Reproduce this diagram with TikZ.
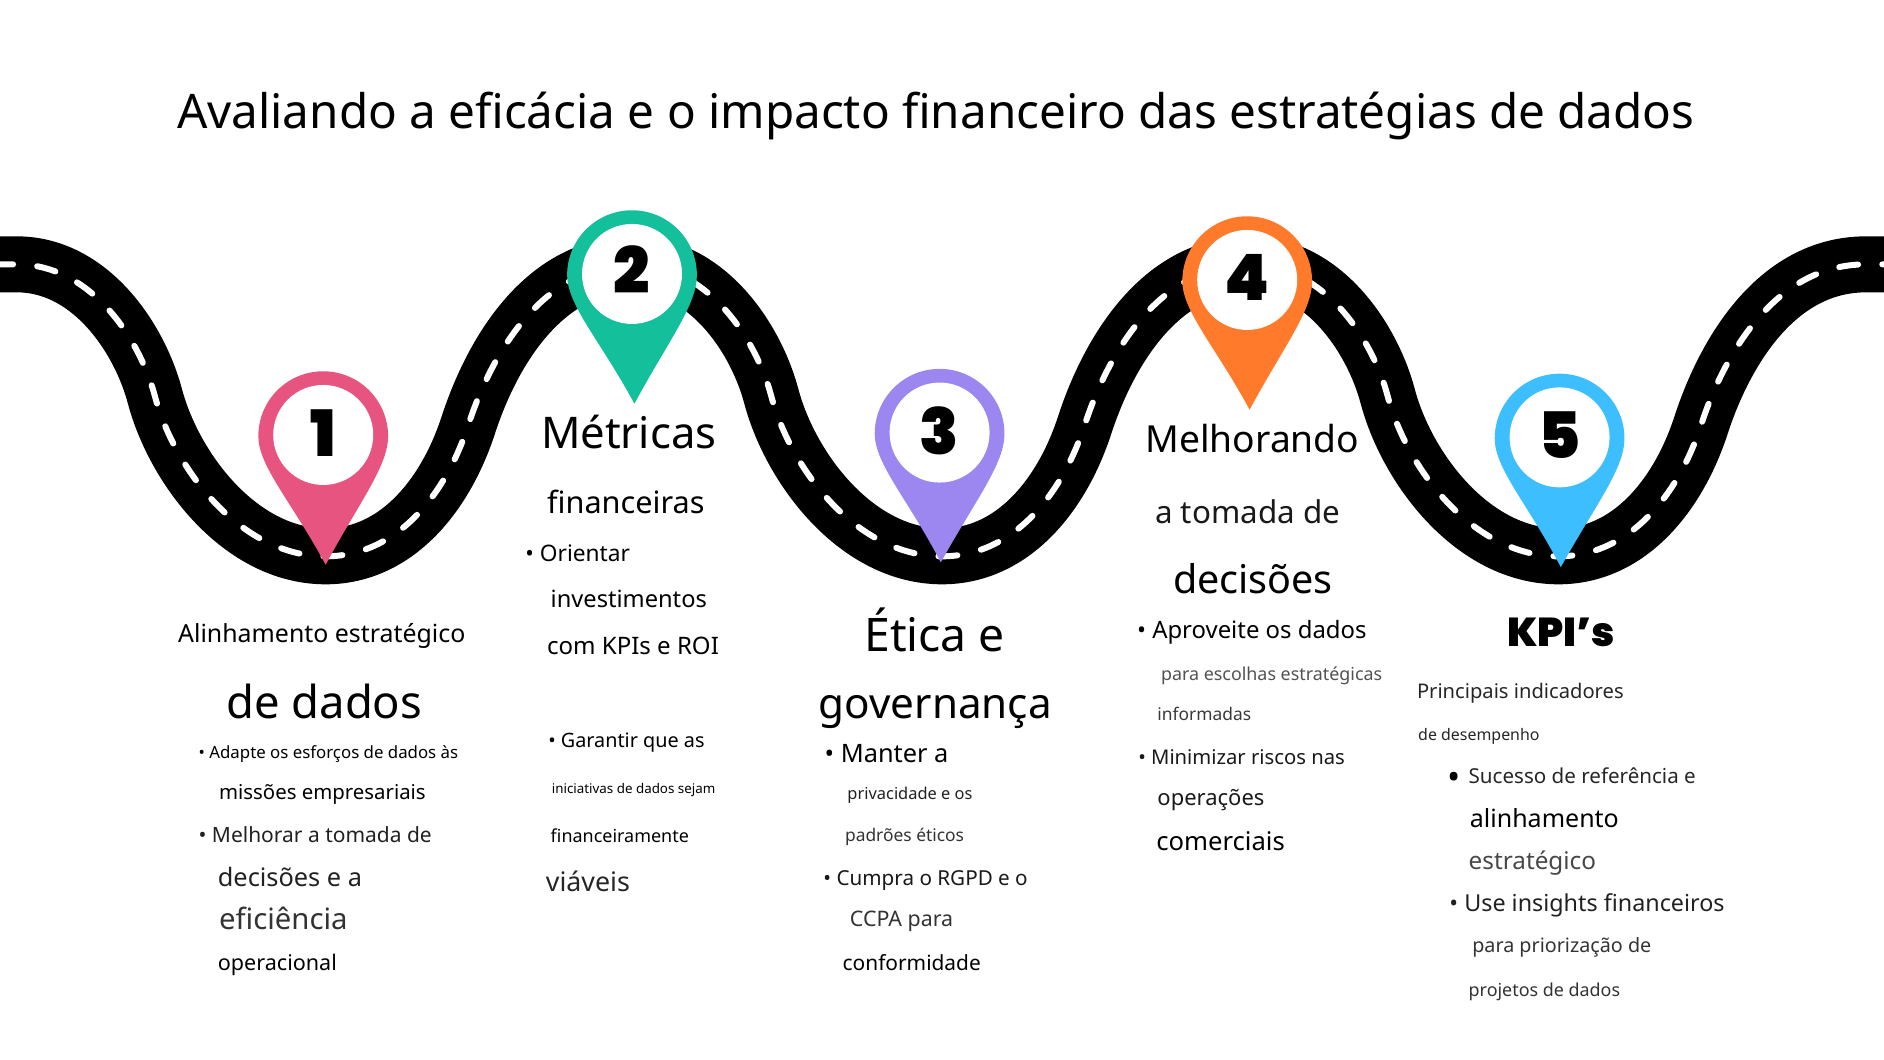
\documentclass[tikz,border=0pt]{standalone}
\usepackage{fontspec}
\setmainfont{Noto Sans}
\newfontfamily\pinfont[UprightFont={* Black}]{Poppins}
\definecolor{pinpink}{HTML}{E75480}
\definecolor{pinteal}{HTML}{14BF9C}
\definecolor{pinpurple}{HTML}{9C86F0}
\definecolor{pinorange}{HTML}{FF7A2B}
\definecolor{pinblue}{HTML}{3DBEFF}
\newlength{\fitwd}
\newcommand{\fitw}[2]{\settowidth{\fitwd}{\fontsize{10}{10}\selectfont #2}\pgfmathsetmacro{\fitsize}{#1*0.60077/\fitwd*10}\fontsize{\fitsize}{\fitsize}\selectfont #2}
\newcommand{\mappin}[7]{
  \fill[#5,shift={(#2,#3)}] (#4,107) .. controls (-26,55) and (-54,25) .. (-54,0) arc[start angle=180,end angle=360,radius=54] .. controls (54,25) and (30,55) .. (#4,107) -- cycle;
  \node[pinhole] (#1) at (#2,#3-1) {\raisebox{#7pt}{#6}};
}
\newcommand{\roadline}{(-20,220) -- (14,220) .. controls (75,220) and (116,281) .. (129,330) .. controls (145,390) and (200,463) .. (271,463) .. controls (330,463) and (371,412) .. (390,353) .. controls (408,298) and (450,220) .. (527,220)
  .. controls (588,220) and (629,281) .. (642,330) .. controls (658,390) and (713,463) .. (784,463) .. controls (843,463) and (884,412) .. (903,353) .. controls (921,298) and (963,220) .. (1040,220)
  .. controls (1101,220) and (1142,281) .. (1155,330) .. controls (1171,390) and (1226,463) .. (1297,463) .. controls (1356,463) and (1397,412) .. (1416,353) .. controls (1434,298) and (1476,220) .. (1553,220) -- (1590,220)}
\tikzset{
  linetext/.style={anchor=base west,inner sep=0pt},
  pinhole/.style={circle,fill=white,inner sep=0pt,minimum size=50pt,font=\pinfont\fontsize{32}{32}\selectfont},
  roadband/.style={line width=28pt,black},
  roaddash/.style={line width=3pt,white,line cap=round,dash pattern=on 9.5pt off 12.1pt,dash phase=12.55pt}
}
\begin{document}
\begin{tikzpicture}[x=0.60077pt,y=-0.60077pt]
  \useasboundingbox (0,0) rectangle (1568,882);
  \clip (0,0) rectangle (1568,882);
  \draw[roadband] \roadline;
  \draw[roaddash] \roadline;
  \mappin{pina}{269}{363}{2}{pinpink}{1}{1.5}
  \mappin{pinb}{526}{229}{2}{pinteal}{2}{4}
  \mappin{pinc}{782}{361}{1}{pinpurple}{3}{1.5}
  \mappin{pind}{1038}{234}{2}{pinorange}{4}{2}
  \mappin{pine}{1298}{365}{1}{pinblue}{5}{2.5}
  \node[linetext] (title) at (147,107) {\fitw{1263}{Avaliando a eficácia e o impacto financeiro das estratégias de dados}};
  \node[linetext] (aa) at (148,535) {\fitw{239}{Alinhamento estratégico}};
  \node[linetext] (ab) at (188,598) {\fitw{163}{de dados}};
  \node[linetext] (ac) at (165,631) {\fitw{216}{• Adapte os esforços de dados às}};
  \node[linetext] (ad) at (182,665) {\fitw{172}{missões empresariais}};
  \node[linetext,text=black!87] (ae) at (165,701) {\fitw{194}{• Melhorar a tomada de}};
  \node[linetext,text=black!87] (af) at (181,738) {\fitw{120}{decisões e a}};
  \node[linetext,text=black!80] (ag) at (182,774) {\fitw{107}{eficiência}};
  \node[linetext] (ah) at (181,808) {\fitw{99}{operacional}};
  \node[linetext] (ba) at (450,373) {\fitw{146}{Métricas}};
  \node[linetext] (bb) at (455,427) {\fitw{131}{financeiras}};
  \node[linetext] (bc) at (437,467) {\fitw{87}{• Orientar}};
  \node[linetext] (bd) at (458,506) {\fitw{130}{investimentos}};
  \node[linetext] (be) at (455,545) {\fitw{143}{com KPIs e ROI}};
  \node[linetext] (bf) at (456,622) {\fitw{130}{• Garantir que as}};
  \node[linetext] (bg) at (459,660) {\fitw{136}{iniciativas de dados sejam}};
  \node[linetext] (bh) at (458,701) {\fitw{115}{financeiramente}};
  \node[linetext,text=black!85] (bi) at (454,742) {\fitw{70}{viáveis}};
  \node[linetext] (ca) at (719,542) {\fitw{117}{Ética e}};
  \node[linetext] (cb) at (681,598) {\fitw{194}{governança}};
  \node[linetext] (cc) at (686,635) {\fitw{103}{• Manter a}};
  \node[linetext,text=black!87] (cd) at (705,665) {\fitw{104}{privacidade e os}};
  \node[linetext,text=black!80] (ce) at (703,700) {\fitw{99}{padrões éticos}};
  \node[linetext,text=black!90] (cf) at (685,737) {\fitw{170}{• Cumpra o RGPD e o}};
  \node[linetext,text=black!80] (cg) at (707,771) {\fitw{86}{CCPA para}};
  \node[linetext] (ch) at (701,808) {\fitw{115}{conformidade}};
  \node[linetext] (da) at (953,377) {\fitw{178}{Melhorando}};
  \node[linetext,text=black!90] (db) at (961,436) {\fitw{154}{a tomada de}};
  \node[linetext] (dc) at (976,494) {\fitw{133}{decisões}};
  \node[linetext] (dd) at (946,531) {\fitw{191}{• Aproveite os dados}};
  \node[linetext,text=black!68] (de) at (966,566) {\fitw{184}{para escolhas estratégicas}};
  \node[linetext,text=black!78] (df) at (963,600) {\fitw{78}{informadas}};
  \node[linetext,text=black!90] (dg) at (947,636) {\fitw{172}{• Minimizar riscos nas}};
  \node[linetext,text=black!90] (dh) at (963,670) {\fitw{89}{operações}};
  \node[linetext] (di) at (962,708) {\fitw{107}{comerciais}};
  \node[linetext,font=\pinfont] (ea) at (1254,538) {\fitw{90}{KPI’s}};
  \node[linetext,text=black!85] (eb) at (1179,581) {\fitw{172}{Principais indicadores}};
  \node[linetext,text=black!85] (ec) at (1180,616) {\fitw{101}{de desempenho}};
  \node[linetext] (ed) at (1204,657) {\fitw{11}{•}};
  \node[linetext,text=black!85] (ee) at (1222,652) {\fitw{189}{Sucesso de referência e}};
  \node[linetext] (ef) at (1223,689) {\fitw{124}{alinhamento}};
  \node[linetext,text=black!72] (eg) at (1222,724) {\fitw{106}{estratégico}};
  \node[linetext,text=black!87] (eh) at (1206,759) {\fitw{229}{• Use insights financeiros}};
  \node[linetext,text=black!80] (ei) at (1225,793) {\fitw{149}{para priorização de}};
  \node[linetext,text=black!80] (ej) at (1222,829) {\fitw{126}{projetos de dados}};
\end{tikzpicture}
\end{document}
